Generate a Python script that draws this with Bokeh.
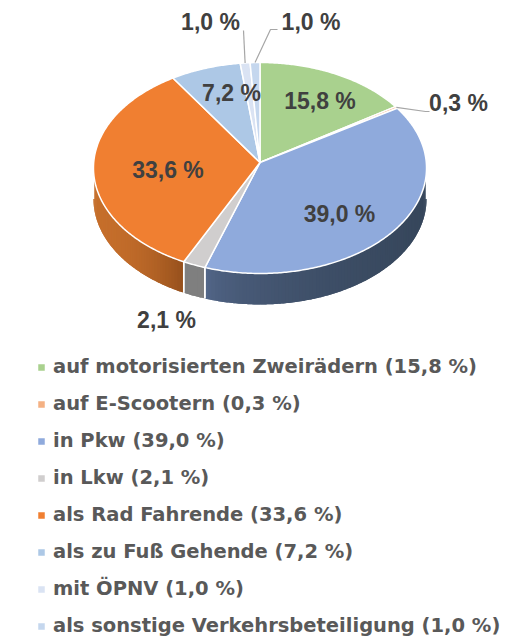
import math
from bokeh.plotting import figure
from bokeh.models import Legend, LegendItem, ColumnDataSource
from bokeh.core.properties import value
from bokeh.embed import file_html
from bokeh.resources import INLINE

categories = ["auf motorisierten Zweirädern", "auf E-Scootern", "in Pkw", "in Lkw",
              "als Rad Fahrende", "als zu Fuß Gehende", "mit ÖPNV", "als sonstige Verkehrsbeteiligung"]
shares = [15.8, 0.3, 39.0, 2.1, 33.6, 7.2, 1.0, 1.0]
colors = ["#A9D18E", "#F4B183", "#8FAADC", "#D0CECE", "#F07F31", "#ADC8E6", "#DAE3F3", "#C5D7EE"]
side_left = ["#7E9D6A", "#B7855F", "#566A8E", "#7F7F7F", "#C56E2B", "#7F95AD", "#A3AAB6", "#94A1B2"]
side_right = ["#7E9D6A", "#B7855F", "#36465B", "#7F7F7F", "#95501C", "#7F95AD", "#A3AAB6", "#94A1B2"]

W, H = 516, 639
CX, CY, B, A, K, DEPTH = 259.5, 162.0, 166.3, 105.2, 0.052, 31.0
FONT = "Liberation Sans"
LEGEND_FONT = "DejaVu Sans"

def fmt(v):
    return f"{v:.1f}".replace(".", ",") + " %"

def project(theta):
    u, v = math.sin(theta), math.cos(theta)
    w = 1 + K * v
    return CX + B * u / w, CY - A * v / w

def hex2rgb(h):
    return tuple(int(h[i:i + 2], 16) for i in (1, 3, 5))

def mix(a, b, t):
    ra, rb = hex2rgb(a), hex2rgb(b)
    return "#%02x%02x%02x" % tuple(round(x + (y - x) * t) for x, y in zip(ra, rb))

p = figure(width=W, height=H, x_range=(0, W), y_range=(H, 0),
           output_backend="svg", toolbar_location=None, min_border=0,
           outline_line_color=None, background_fill_color="white")
p.axis.visible = False
p.grid.visible = False

total = sum(shares)
edges = [0.0]
for s in shares:
    edges.append(edges[-1] + s / total * 2 * math.pi)

TH_R = math.acos(-K)
TH_L = 2 * math.pi - TH_R

# side wall: overlapping strips so that no seams show
xs, ys, fc = [], [], []
bx, by = [], []
for i in range(len(shares)):
    a0, a1 = max(edges[i], TH_R), min(edges[i + 1], TH_L)
    if a1 <= a0:
        continue
    n = max(2, int((a1 - a0) / 0.02))
    x_a, x_b = project(a0)[0], project(a1)[0]
    for j in range(n):
        t0 = a0 + (a1 - a0) * j / n
        t1 = a0 + (a1 - a0) * min(j + 2, n) / n
        tm = a0 + (a1 - a0) * (j + 0.5) / n
        tp = [project(t0 + (t1 - t0) * q / 4) for q in range(5)]
        xs.append([q[0] for q in tp] + [q[0] for q in reversed(tp)])
        ys.append([q[1] for q in tp] + [q[1] + DEPTH for q in reversed(tp)])
        frac = (project(tm)[0] - min(x_a, x_b)) / max(1e-6, abs(x_a - x_b))
        frac = min(max(frac, 0), 1)
        fc.append(mix(side_left[i], side_right[i], frac ** 0.45 if i == 2 else frac ** 2.2))
    bx.append([project(a0)[0], project(a0)[0]])
    by.append([project(a0)[1], project(a0)[1] + DEPTH])
    bx.append([project(a1)[0], project(a1)[0]])
    by.append([project(a1)[1], project(a1)[1] + DEPTH])
p.patches(xs, ys, fill_color=fc, line_color=None)
p.multi_line(bx, by, line_color="white", line_width=1.5)

# top wedges
items = []
for i, (name, s, c) in enumerate(zip(categories, shares, colors)):
    a0, a1 = edges[i], edges[i + 1]
    n = max(3, int((a1 - a0) / 0.01))
    pts = [project(a0 + (a1 - a0) * j / n) for j in range(n + 1)]
    wx = [CX] + [q[0] for q in pts]
    wy = [CY] + [q[1] for q in pts]
    r = p.patches([wx], [wy], fill_color=c, line_color="white", line_width=1.5, line_join="round")
    items.append(LegendItem(label=f"{name} ({fmt(s)})", renderers=[r]))

# leader lines
mids = [(edges[i] + edges[i + 1]) / 2 for i in range(len(shares))]
leader_idx = [1, 6, 7]
leader_path_x = [[425, 429], [243], [270, 277]]
leader_path_y = [[111, 111], [30], [29, 29]]
lx, ly = [], []
for i, ex, ey in zip(leader_idx, leader_path_x, leader_path_y):
    sx, sy = project(mids[i])
    lx.append([sx] + ex)
    ly.append([sy] + ey)
p.multi_line(lx, ly, line_color="#A6A6A6", line_width=1.2)

# data labels
label_x = [319.5, 458, 339, 166, 167.5, 231, 210, 310.5]
label_y = [100, 102.5, 213.5, 319.5, 169, 92, 21, 21]
src = ColumnDataSource(dict(x=label_x, y=label_y, t=[fmt(s) for s in shares]))
p.text("x", "y", text="t", source=src, text_align="center", text_baseline="middle",
       text_font=value(FONT), text_font_style="bold", text_font_size="23px", text_color="#404040")

legend = Legend(items=items, location=(36, 2), orientation="vertical",
                glyph_width=10, glyph_height=10, label_standoff=7,
                label_text_font=LEGEND_FONT, label_text_font_style="bold", label_text_font_size="19.5px",
                label_text_color="#595959", label_height=20, spacing=14,
                padding=0, margin=0, border_line_color=None, background_fill_alpha=0)
p.add_layout(legend, "center")

open("out.html", "w").write(file_html(p, INLINE))
